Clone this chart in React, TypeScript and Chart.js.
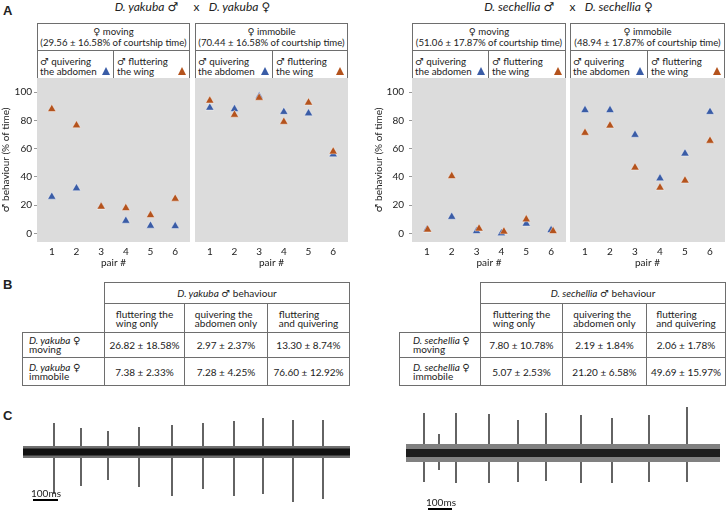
import React, { useEffect, useRef } from "react";
import { Chart, registerables } from "chart.js";
Chart.register(...registerables);

// ---------- data ----------
const pairs = [1, 2, 3, 4, 5, 6];
const yTicks = [0, 20, 40, 60, 80, 100];

const yakMovQuiver = [26, 32, 19, 9, 5.5, 5.2];
const yakMovFlutter = [88, 76.5, 19, 18, 13, 24.6];
const yakImmQuiver = [89, 88, 97, 86, 85, 56];
const yakImmFlutter = [94, 84, 96, 79, 92.6, 58];
const secMovQuiver = [2.8, 11.8, 1.7, 0.2, 7, 2.4];
const secMovFlutter = [2.8, 40.6, 3.5, 1.4, 10, 1.7];
const secMovFlutterPair = [1.03, 2, 3.1, 4.1, 5, 6.08];
const secImmQuiver = [87.3, 87.3, 69.8, 39, 56.6, 86];
const secImmFlutter = [71.2, 76.4, 46.7, 32.5, 37.5, 65.6];

const femaleStates = ["\u2640 moving", "\u2640 immobile"];
const yakPct = ["(29.56 \u00b1 16.58% of courtship time)", "(70.44 \u00b1 16.58% of courtship time)"];
const secPct = ["(51.06 \u00b1 17.87% of courtship time)", "(48.94 \u00b1 17.87% of courtship time)"];

const colHeaders = [["fluttering the", "wing only"], ["quivering the", "abdomen only"], ["fluttering", "and quivering"]];
const rowStates = ["moving", "immobile"];
const yakTable = [
  ["26.82 \u00b1 18.58%", "2.97 \u00b1 2.37%", "13.30 \u00b1 8.74%"],
  ["7.38 \u00b1 2.33%", "7.28 \u00b1 4.25%", "76.60 \u00b1 12.92%"],
];
const secTable = [
  ["7.80 \u00b1 10.78%", "2.19 \u00b1 1.84%", "2.06 \u00b1 1.78%"],
  ["5.07 \u00b1 2.53%", "21.20 \u00b1 6.58%", "49.69 \u00b1 15.97%"],
];

// traces (ms, arbitrary amplitude)
const yakSpikeT = [124, 232, 340, 464, 596, 720, 844, 960, 1080, 1200];
const yakSpikeUp = [29, 24, 21, 25, 27, 29, 31, 34, 32, 32];
const yakSpikeDown = [-42, -34, -28, -35, -44, -37, -44, -42, -50, -47];
const secSpikeT = [72, 132, 200, 332, 448, 560, 700, 824, 972, 1124];
const secSpikeUp = [40, 19, 40, 39, 33, 40, 38, 35, 38, 46];
const secSpikeDown = [-29, -17, -30, -30, -29, -28, -30, -30, -29, -29];

// ---------- style ----------
const FONT = "Lato, 'DejaVu Sans', sans-serif";
const GREY = "#dcdcdc";
const BLUE = "#3a5ca6";
const ORANGE = "#b4531d";
const LINE = "#6e6e6e";
const TXT = "#222";

type PanelProps = {
  left: number; top: number; width: number; height: number;
  yAxisWidth: number; yPad?: number;
  quiver: number[]; flutter: number[]; flutterX?: number[];
};

function Panel(p: PanelProps) {
  const ref = useRef<HTMLCanvasElement>(null);
  useEffect(() => {
    const bg = {
      id: "bg",
      beforeDraw(c: any) {
        const a = c.chartArea;
        c.ctx.save();
        c.ctx.fillStyle = GREY;
        c.ctx.fillRect(a.left, a.top, a.right - a.left, a.bottom - a.top);
        c.ctx.restore();
      },
    };
    const tri = {
      pointStyle: "triangle" as const,
      pointRadius: 4.8,
      borderColor: "rgba(255,255,255,0.55)",
      borderWidth: 0.8,
    };
    const fx = p.flutterX || pairs;
    const chart = new Chart(ref.current as HTMLCanvasElement, {
      type: "scatter",
      data: {
        datasets: [
          { data: pairs.map((x, i) => ({ x, y: p.quiver[i] })), backgroundColor: BLUE, order: 1, ...tri },
          { data: fx.map((x, i) => ({ x, y: p.flutter[i] })), backgroundColor: ORANGE, order: 0, ...tri },
        ],
      },
      options: {
        animation: false,
        responsive: false,
        maintainAspectRatio: false,
        layout: { padding: 0, autoPadding: false },
        plugins: { legend: { display: false }, tooltip: { enabled: false } },
        scales: {
          x: {
            type: "linear",
            min: 0.4,
            max: 6.6,
            afterBuildTicks: (ax: any) => { ax.ticks = pairs.map((v) => ({ value: v })); },
            afterFit: (ax: any) => { ax.height = 28; ax.paddingLeft = 0; ax.paddingRight = 0; },
            grid: { display: false, drawTicks: false },
            border: { display: false },
            ticks: { padding: 4, color: TXT, font: { family: FONT, size: 10 } },
            title: { display: true, text: "pair #", color: TXT, padding: { top: 0, bottom: 1 }, font: { family: FONT, size: 10 } },
          },
          y: {
            display: p.yAxisWidth > 0,
            min: -6,
            max: 110,
            afterBuildTicks: (ax: any) => { ax.ticks = yTicks.map((v) => ({ value: v })); },
            afterFit: (ax: any) => { ax.width = p.yAxisWidth; ax.paddingTop = 0; ax.paddingBottom = 0; },
            grid: { drawOnChartArea: false, drawTicks: true, tickLength: 3, color: "#999" },
            border: { display: false },
            ticks: { padding: p.yPad ?? 2, color: TXT, font: { family: FONT, size: 10 } },
            title: { display: true, text: "\u2642 behaviour (% of time)", color: TXT, padding: 0, font: { family: FONT, size: 10 } },
          },
        },
      },
      plugins: [bg],
    });
    return () => chart.destroy();
  }, []);
  return (
    <canvas
      ref={ref}
      width={p.width}
      height={p.height}
      style={{ position: "absolute", left: p.left, top: p.top, width: p.width, height: p.height }}
    />
  );
}

type TraceProps = {
  left: number; top: number; width: number; height: number;
  duration: number; yMin: number; yMax: number;
  noiseOuter: number; noiseInner: number; outerColor: string; innerColor: string;
  spikeT: number[]; spikeUp: number[]; spikeDown: number[];
};

function Trace(p: TraceProps) {
  const ref = useRef<HTMLCanvasElement>(null);
  useEffect(() => {
    const spikes: any[] = [];
    p.spikeT.forEach((t, i) => {
      spikes.push({ x: t, y: p.spikeDown[i] }, { x: t, y: p.spikeUp[i] }, { x: t, y: null });
    });
    const flat = (v: number) => [{ x: 0, y: v }, { x: p.duration, y: v }];
    const chart = new Chart(ref.current as HTMLCanvasElement, {
      type: "line",
      data: {
        datasets: [
          // inner (dark) band first: Filler paints higher indexes first
          { data: flat(p.noiseInner), borderWidth: 0, pointRadius: 0, fill: "+1", backgroundColor: p.innerColor },
          { data: flat(-p.noiseInner), borderWidth: 0, pointRadius: 0 },
          { data: flat(p.noiseOuter), borderWidth: 0, pointRadius: 0, fill: "+1", backgroundColor: p.outerColor },
          { data: flat(-p.noiseOuter), borderWidth: 0, pointRadius: 0 },
          { data: spikes, borderColor: "#111", borderWidth: 1.3, pointRadius: 0, spanGaps: false },
        ],
      },
      options: {
        animation: false,
        responsive: false,
        maintainAspectRatio: false,
        layout: { padding: 0, autoPadding: false },
        plugins: { legend: { display: false }, tooltip: { enabled: false } },
        scales: {
          x: { type: "linear", display: false, min: 0, max: p.duration },
          y: { display: false, min: p.yMin, max: p.yMax },
        },
      },
    });
    return () => chart.destroy();
  }, []);
  return (
    <canvas
      ref={ref}
      width={p.width}
      height={p.height}
      style={{ position: "absolute", left: p.left, top: p.top, width: p.width, height: p.height }}
    />
  );
}

const abs = (l: number, t: number, w: number, h: number, extra: any = {}) => ({
  position: "absolute" as const, left: l, top: t, width: w, height: h, boxSizing: "border-box" as const, ...extra,
});

function Tri({ x, color }: { x: number; color: string }) {
  return (
    <div
      style={{
        position: "absolute", left: x - 4.5, top: 67, width: 0, height: 0,
        borderLeft: "4.5px solid transparent", borderRight: "4.5px solid transparent",
        borderBottom: `8px solid ${color}`,
      }}
    />
  );
}

function HeaderBox({ x0, x1, mid, state, pct }: { x0: number; x1: number; mid: number; state: string; pct: string }) {
  return (
    <>
      <div style={abs(x0, 23, x1 - x0, 55, { borderTop: `1px solid ${LINE}`, borderLeft: `1px solid ${LINE}`, borderRight: `1px solid ${LINE}` })} />
      <div style={abs(x0, 50, x1 - x0, 1, { background: LINE })} />
      <div style={abs(mid, 50, 1, 28, { background: LINE })} />
      <div style={abs(x0, 26, x1 - x0, 24, { textAlign: "center", fontSize: 9.6, lineHeight: "11px", whiteSpace: "nowrap" })}>
        {state}<br />{pct}
      </div>
      <div style={abs(x0 + 3, 56, mid - x0 - 3, 22, { fontSize: 9.8, lineHeight: "10px", whiteSpace: "nowrap" })}>
        {"\u2642 quivering"}<br />the abdomen
      </div>
      <Tri x={mid - 7} color={BLUE} />
      <div style={abs(mid + 4, 56, x1 - mid - 4, 22, { fontSize: 9.8, lineHeight: "10px", whiteSpace: "nowrap" })}>
        {"\u2642 fluttering"}<br />the wing
      </div>
      <Tri x={x1 - 8} color={ORANGE} />
    </>
  );
}

function Cell({ x0, x1, y0, y1, children, align = "center", padL = 0, style = {} }: any) {
  return (
    <div
      style={abs(x0, y0, x1 - x0 + 1, y1 - y0 + 1, {
        border: `1px solid ${LINE}`, display: "flex", alignItems: "center",
        justifyContent: align === "center" ? "center" : "flex-start", paddingLeft: padL,
        fontSize: 10, whiteSpace: "nowrap", ...style,
      })}
    >
      {children}
    </div>
  );
}

function Table({ cols, species, values, labelPad }: { cols: number[]; species: string; values: string[][]; labelPad: number }) {
  const rows = [282, 303, 332, 357, 385];
  return (
    <>
      <Cell x0={cols[1]} x1={cols[4]} y0={rows[0]} y1={rows[1]}>
        <span><i>{species}</i>{" \u2642  behaviour"}</span>
      </Cell>
      {colHeaders.map((h, i) => (
        <Cell key={"h" + i} x0={cols[i + 1]} x1={cols[i + 2]} y0={rows[1]} y1={rows[2]}>
          <div style={{ lineHeight: "8.5px", textAlign: "left", paddingTop: 1 }}>{h[0]}<br />{h[1]}</div>
        </Cell>
      ))}
      {values.map((row, r) => (
        <React.Fragment key={"r" + r}>
          <Cell x0={cols[0]} x1={cols[1]} y0={rows[r + 2]} y1={rows[r + 3]} align="left" padL={labelPad}>
            <div style={{ lineHeight: "9px" }}><i>{species}</i>{" \u2640"}<br />{rowStates[r]}</div>
          </Cell>
          {row.map((v, c) => (
            <Cell key={"c" + c} x0={cols[c + 1]} x1={cols[c + 2]} y0={rows[r + 2]} y1={rows[r + 3]}>{v}</Cell>
          ))}
        </React.Fragment>
      ))}
    </>
  );
}

export default function App() {
  const letter = { fontFamily: "'Liberation Sans', Arial, sans-serif", fontWeight: 700, fontSize: 13 };
  return (
    <div style={{ position: "absolute", left: 0, top: 0, width: 726, height: 510, background: "#fff", fontFamily: FONT, color: TXT, overflow: "hidden" }}>
      <div style={abs(3, 3, 20, 16, letter)}>A</div>
      <div style={abs(3, 277, 20, 16, letter)}>B</div>
      <div style={abs(3, 408, 20, 16, letter)}>C</div>

      <div style={abs(37, -1, 311, 16, { textAlign: "center", fontSize: 12, whiteSpace: "pre" })}>
        <i>D. yakuba</i>{" \u2642     x   "}<i>D. yakuba</i>{" \u2640"}
      </div>
      <div style={abs(412, -1, 313, 16, { textAlign: "center", fontSize: 12, whiteSpace: "pre" })}>
        <i>D. sechellia</i>{" \u2642     x   "}<i>D. sechellia</i>{" \u2640"}
      </div>

      <HeaderBox x0={37} x1={190} mid={113} state={femaleStates[0]} pct={yakPct[0]} />
      <HeaderBox x0={195} x1={348} mid={272} state={femaleStates[1]} pct={yakPct[1]} />
      <HeaderBox x0={412} x1={566} mid={488} state={femaleStates[0]} pct={secPct[0]} />
      <HeaderBox x0={570} x1={725} mid={647} state={femaleStates[1]} pct={secPct[1]} />

      <Panel left={0} top={78} width={190} height={192} yAxisWidth={37} quiver={yakMovQuiver} flutter={yakMovFlutter} />
      <Panel left={195} top={78} width={153} height={192} yAxisWidth={0} quiver={yakImmQuiver} flutter={yakImmFlutter} />
      <Panel left={373} top={78} width={193} height={192} yAxisWidth={39} yPad={5} quiver={secMovQuiver} flutter={secMovFlutter} flutterX={secMovFlutterPair} />
      <Panel left={570} top={78} width={155} height={192} yAxisWidth={0} quiver={secImmQuiver} flutter={secImmFlutter} />

      <Table cols={[22, 104, 184, 267, 349]} species="D. yakuba" values={yakTable} labelPad={6} />
      <Table cols={[399, 480, 562, 646, 725]} species="D. sechellia" values={secTable} labelPad={13} />

      <Trace left={23} top={412} width={327} height={93} duration={1308} yMin={-53} yMax={40}
        noiseOuter={6} noiseInner={3.5} outerColor="#707070" innerColor="#111"
        spikeT={yakSpikeT} spikeUp={yakSpikeUp} spikeDown={yakSpikeDown} />
      <Trace left={406} top={404} width={314} height={84} duration={1256} yMin={-35} yMax={49}
        noiseOuter={9} noiseInner={4} outerColor="#808080" innerColor="#1c1c1c"
        spikeT={secSpikeT} spikeUp={secSpikeUp} spikeDown={secSpikeDown} />

      <div style={abs(31, 487, 40, 12, { fontSize: 10 })}>100ms</div>
      <div style={abs(33, 499, 25, 1.5, { background: "#000" })} />
      <div style={abs(426, 496, 40, 12, { fontSize: 10 })}>100ms</div>
      <div style={abs(428, 508, 24, 1.5, { background: "#000" })} />
    </div>
  );
}
